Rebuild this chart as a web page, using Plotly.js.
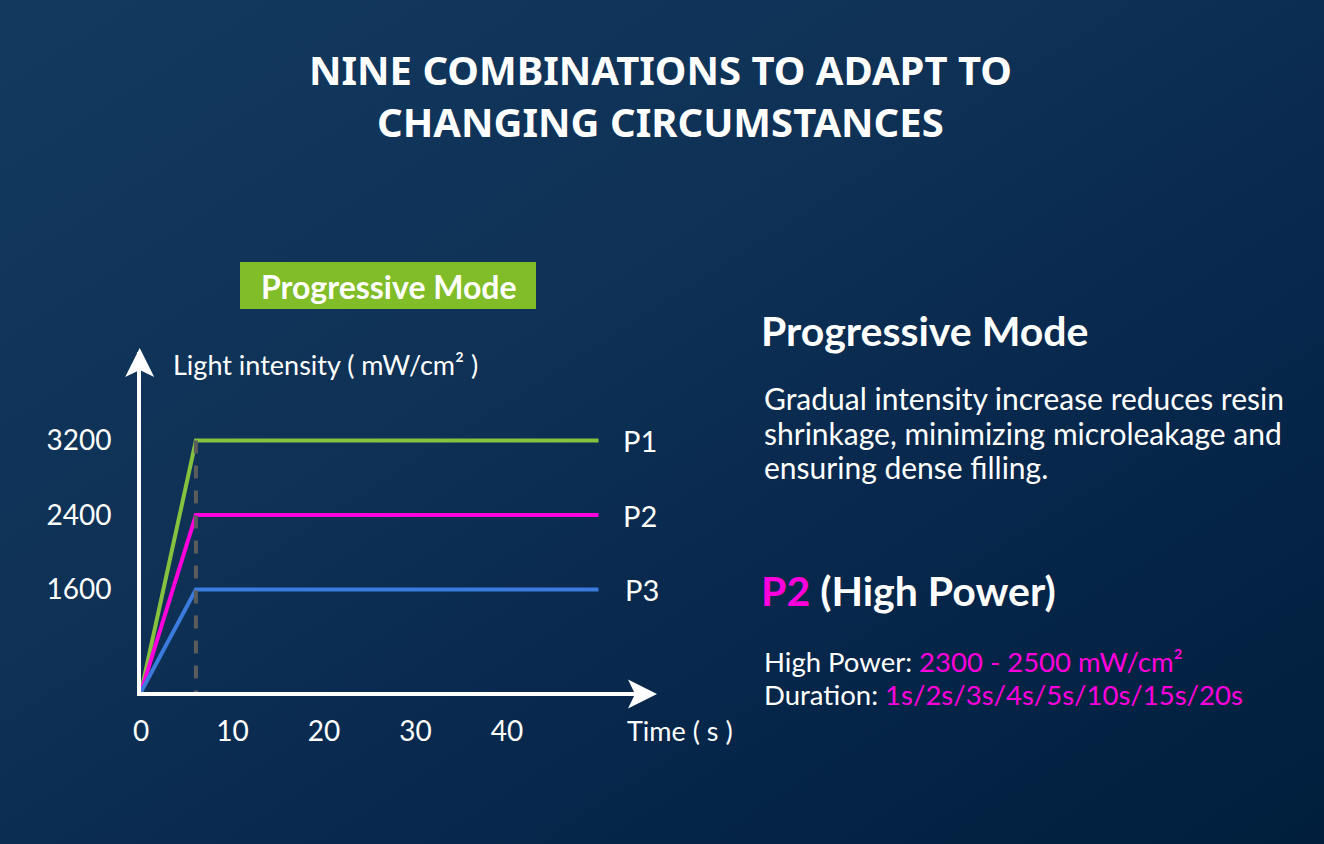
<!DOCTYPE html>
<html>
<head>
<meta charset="utf-8">
<script src="https://cdn.plot.ly/plotly-3.0.1.min.js"></script>
<style>
  html, body { margin: 0; padding: 0; }
  #chart {
    width: 1324px; height: 844px;
    background: linear-gradient(to bottom right, #143a60 0%, #0e3155 40%, #06264a 70%, #001e3c 100%);
  }
</style>
</head>
<body>
<div id="chart"></div>
<script>
// ---- data ----
const timeS = [0, 6, 50];
const p1Values = [500, 3200, 3200];
const p2Values = [500, 2400, 2400];
const p3Values = [500, 1600, 1600];
const seriesNames = ['P1', 'P2', 'P3'];
const peakTime = [6, 6];
const peakLine = [3200, 500];
const xTickVals = [0, 10, 20, 30, 40];
const xTickText = ['0', '10', '20', '30', '40'];
const yTickVals = [1600, 2400, 3200];
const yTickText = ['1600', '2400', '3200'];

// ---- layout helpers ----
const W = 1324, H = 844;
const px = x => x / W;
const py = y => 1 - y / H;

const BODY = 'Lato, "Noto Sans", sans-serif';
const WHITE = '#ffffff';
const GREEN = '#86c240';
const MAGENTA = '#ff00dc';
const BLUE = '#3b7bdc';

const seriesColors = [GREEN, MAGENTA, BLUE];
const seriesValues = [p1Values, p2Values, p3Values];

const traces = seriesValues.map((vals, i) => ({
  type: 'scatter', mode: 'lines', x: timeS, y: vals, name: seriesNames[i],
  line: { color: seriesColors[i], width: 4 }, cliponaxis: false, hoverinfo: 'skip'
}));
traces.push({
  type: 'scatter', mode: 'lines', x: peakTime, y: peakLine, name: 'peak',
  line: { color: '#5c5c5c', width: 4, dash: '13px,12px' }, cliponaxis: false, hoverinfo: 'skip'
});

function poly(pts) {
  return 'M ' + pts.map(p => px(p[0]) + ',' + py(p[1])).join(' L ') + ' Z';
}

const shapes = [
  { type: 'rect', xref: 'paper', yref: 'paper', x0: px(240), x1: px(536), y0: py(309), y1: py(262),
    fillcolor: '#80bd28', line: { width: 0 }, layer: 'below' },
  { type: 'path', xref: 'paper', yref: 'paper', path: poly([[657, 694], [628, 679.5], [635, 694], [628, 708.5]]),
    fillcolor: WHITE, line: { width: 0 } },
  { type: 'path', xref: 'paper', yref: 'paper', path: poly([[139.7, 348], [154.2, 377], [139.7, 370], [125.2, 377]]),
    fillcolor: WHITE, line: { width: 0 } }
];

function txt(x, y, text, size, opts) {
  return Object.assign({
    xref: 'paper', yref: 'paper', x: px(x), y: py(y), xanchor: 'left', yanchor: 'middle',
    showarrow: false, text: text, font: { family: BODY, size: size, color: WHITE }
  }, opts || {});
}
const mag = s => '<span style="color:' + MAGENTA + '">' + s + '</span>';

const annotations = [
  txt(660, 95, 'NINE COMBINATIONS TO ADAPT TO<br>CHANGING CIRCUMSTANCES', 40,
      { xanchor: 'center', font: { family: '"Noto Sans", sans-serif', size: 40, color: WHITE, weight: 700 } }),
  txt(389, 286, 'Progressive Mode', 32,
      { xanchor: 'center', font: { family: BODY, size: 32, color: WHITE, weight: 700 } }),
  txt(171, 365, 'Light intensity ( mW/cm² )', 27),
  txt(625, 730, 'Time ( s )', 27),
  txt(759, 330, 'Progressive Mode', 41, { font: { family: BODY, size: 41, color: WHITE, weight: 700 } }),
  txt(762, 398, 'Gradual intensity increase reduces resin', 30),
  txt(762, 433, 'shrinkage, minimizing microleakage and', 30),
  txt(762, 467, 'ensuring dense filling.', 30),
  txt(759, 590, mag('P2') + ' (High Power)', 41, { font: { family: BODY, size: 41, color: WHITE, weight: 700 } }),
  txt(762, 661, 'High Power: ' + mag('2300 - 2500 mW/cm²'), 27.5),
  txt(762, 694, 'Duration: ' + mag('1s/2s/3s/4s/5s/10s/15s/20s'), 27.5)
];

// series end labels, anchored to data
seriesValues.forEach((vals, i) => {
  annotations.push({
    x: timeS[timeS.length - 1], y: vals[vals.length - 1], xref: 'x', yref: 'y',
    xanchor: 'left', yanchor: 'middle', xshift: 22 + (i === 2 ? 2 : 0), showarrow: false,
    text: seriesNames[i], font: { family: BODY, size: 29, color: WHITE }
  });
});

const x0px = 141, xEndPx = 652, yBotPx = 692, yTopPx = 352;
const xUnit = 9.15, yUnit = 0.09315;

const layout = {
  width: W, height: H,
  margin: { l: 0, r: 0, t: 0, b: 0, pad: 0 },
  paper_bgcolor: 'rgba(0,0,0,0)', plot_bgcolor: 'rgba(0,0,0,0)',
  showlegend: false,
  xaxis: {
    domain: [px(x0px), px(xEndPx)],
    range: [0, (xEndPx - x0px) / xUnit],
    showgrid: false, zeroline: false, showline: true, linecolor: WHITE, linewidth: 4,
    ticks: '', tickmode: 'array', tickvals: xTickVals, ticktext: xTickText,
    ticklabelstandoff: 11,
    tickfont: { family: BODY, size: 28, color: WHITE }, fixedrange: true
  },
  yaxis: {
    domain: [py(yBotPx), py(yTopPx)],
    range: [500, 500 + (yBotPx - yTopPx) / yUnit],
    showgrid: false, zeroline: false, showline: true, linecolor: WHITE, linewidth: 4,
    ticks: '', tickmode: 'array', tickvals: yTickVals, ticktext: yTickText,
    ticklabelstandoff: 20,
    tickfont: { family: BODY, size: 28, color: WHITE }, fixedrange: true
  },
  shapes: shapes,
  annotations: annotations
};

Plotly.newPlot('chart', traces, layout, { displayModeBar: false, staticPlot: true });
</script>
</body>
</html>
